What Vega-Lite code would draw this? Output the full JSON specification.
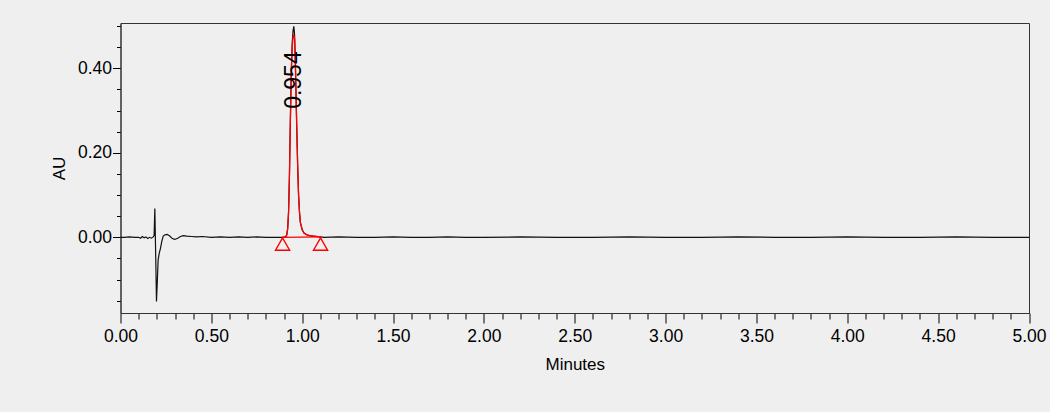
{
  "$schema": "https://vega.github.io/schema/vega-lite/v6.json",
  "autosize": {"type": "none"},
  "padding": {"left": 120.5, "top": 23, "right": 21, "bottom": 99},
  "width": 908.5,
  "height": 290,
  "background": "#efefef",
  "config": {
    "font": "Liberation Sans",
    "view": {"fill": "#efefef", "stroke": "#333333", "strokeWidth": 1}
  },
  "datasets": {
    "trace": [
      {"t": 0.0, "v": 0.0}, {"t": 0.02, "v": 0.0}, {"t": 0.05, "v": 0.001}, {"t": 0.08, "v": 0.0},
      {"t": 0.1, "v": 0.0}, {"t": 0.11, "v": -0.002}, {"t": 0.12, "v": 0.002}, {"t": 0.13, "v": -0.001},
      {"t": 0.14, "v": 0.001}, {"t": 0.15, "v": -0.003}, {"t": 0.16, "v": 0.0}, {"t": 0.17, "v": -0.002},
      {"t": 0.18, "v": 0.001}, {"t": 0.185, "v": 0.004}, {"t": 0.189, "v": 0.068}, {"t": 0.194, "v": -0.05},
      {"t": 0.198, "v": -0.152}, {"t": 0.203, "v": -0.1}, {"t": 0.207, "v": -0.054}, {"t": 0.213, "v": -0.038},
      {"t": 0.22, "v": -0.026}, {"t": 0.227, "v": -0.01}, {"t": 0.235, "v": 0.003}, {"t": 0.245, "v": 0.006},
      {"t": 0.257, "v": 0.007}, {"t": 0.271, "v": 0.003}, {"t": 0.285, "v": -0.003}, {"t": 0.299, "v": -0.005},
      {"t": 0.315, "v": -0.002}, {"t": 0.33, "v": 0.002}, {"t": 0.345, "v": 0.004}, {"t": 0.365, "v": 0.003},
      {"t": 0.39, "v": 0.002}, {"t": 0.42, "v": 0.001}, {"t": 0.45, "v": 0.002}, {"t": 0.5, "v": 0.0},
      {"t": 0.55, "v": 0.001}, {"t": 0.6, "v": 0.0}, {"t": 0.65, "v": 0.001}, {"t": 0.7, "v": 0.0},
      {"t": 0.75, "v": 0.001}, {"t": 0.8, "v": 0.0}, {"t": 0.85, "v": 0.0}, {"t": 0.88, "v": 0.0},
      {"t": 0.9, "v": 0.0}, {"t": 0.91, "v": 0.002}, {"t": 0.915, "v": 0.006}, {"t": 0.92, "v": 0.02},
      {"t": 0.925, "v": 0.06}, {"t": 0.93, "v": 0.15}, {"t": 0.935, "v": 0.28}, {"t": 0.94, "v": 0.39},
      {"t": 0.945, "v": 0.46}, {"t": 0.95, "v": 0.49}, {"t": 0.954, "v": 0.499}, {"t": 0.958, "v": 0.48},
      {"t": 0.962, "v": 0.42}, {"t": 0.966, "v": 0.34}, {"t": 0.97, "v": 0.26}, {"t": 0.975, "v": 0.17},
      {"t": 0.98, "v": 0.1}, {"t": 0.985, "v": 0.06}, {"t": 0.99, "v": 0.035}, {"t": 1.0, "v": 0.018},
      {"t": 1.01, "v": 0.01}, {"t": 1.025, "v": 0.006}, {"t": 1.04, "v": 0.004}, {"t": 1.06, "v": 0.003},
      {"t": 1.08, "v": 0.002}, {"t": 1.1, "v": 0.001}, {"t": 1.12, "v": 0.0}, {"t": 1.2, "v": 0.001},
      {"t": 1.3, "v": 0.0}, {"t": 1.4, "v": 0.0}, {"t": 1.5, "v": 0.001}, {"t": 1.6, "v": 0.0},
      {"t": 1.7, "v": 0.0}, {"t": 1.8, "v": 0.001}, {"t": 1.9, "v": 0.0}, {"t": 2.0, "v": 0.0},
      {"t": 2.2, "v": 0.001}, {"t": 2.4, "v": 0.0}, {"t": 2.6, "v": 0.0}, {"t": 2.8, "v": 0.001},
      {"t": 3.0, "v": 0.0}, {"t": 3.2, "v": 0.0}, {"t": 3.4, "v": 0.001}, {"t": 3.6, "v": 0.0},
      {"t": 3.8, "v": 0.0}, {"t": 4.0, "v": 0.001}, {"t": 4.2, "v": 0.0}, {"t": 4.4, "v": 0.0},
      {"t": 4.6, "v": 0.001}, {"t": 4.8, "v": 0.0}, {"t": 5.0, "v": 0.0}
    ],
    "fit": [
      {"t": 0.892, "v": 0.0}, {"t": 0.905, "v": 0.001}, {"t": 0.91, "v": 0.002}, {"t": 0.915, "v": 0.006},
      {"t": 0.92, "v": 0.02}, {"t": 0.925, "v": 0.06}, {"t": 0.93, "v": 0.15}, {"t": 0.935, "v": 0.28},
      {"t": 0.94, "v": 0.39}, {"t": 0.945, "v": 0.45}, {"t": 0.95, "v": 0.475}, {"t": 0.954, "v": 0.478},
      {"t": 0.958, "v": 0.47}, {"t": 0.962, "v": 0.42}, {"t": 0.966, "v": 0.34}, {"t": 0.97, "v": 0.26},
      {"t": 0.975, "v": 0.17}, {"t": 0.98, "v": 0.1}, {"t": 0.985, "v": 0.06}, {"t": 0.99, "v": 0.035},
      {"t": 1.0, "v": 0.018}, {"t": 1.01, "v": 0.01}, {"t": 1.025, "v": 0.006}, {"t": 1.04, "v": 0.004},
      {"t": 1.06, "v": 0.003}, {"t": 1.08, "v": 0.002}, {"t": 1.101, "v": 0.001}
    ],
    "base": [{"t": 0.892, "v": 0.0}, {"t": 1.101, "v": 0.001}],
    "marks": [{"t": 0.892, "v": -0.016}, {"t": 1.101, "v": -0.016}],
    "label": [{"t": 0.954, "v": 0.372, "lab": "0.954"}]
  },
  "encoding": {
    "x": {
      "field": "t", "type": "quantitative",
      "scale": {"domain": [0, 5], "nice": false, "zero": false},
      "axis": {
        "title": "Minutes", "titleFontSize": 17, "titleFontWeight": "normal", "titleColor": "#000000", "titlePadding": 12,
        "values": [0, 0.1, 0.2, 0.3, 0.4, 0.5, 0.6, 0.7, 0.8, 0.9, 1.0, 1.1, 1.2, 1.3, 1.4, 1.5, 1.6, 1.7, 1.8, 1.9, 2.0, 2.1, 2.2, 2.3, 2.4, 2.5, 2.6, 2.7, 2.8, 2.9, 3.0, 3.1, 3.2, 3.3, 3.4, 3.5, 3.6, 3.7, 3.8, 3.9, 4.0, 4.1, 4.2, 4.3, 4.4, 4.5, 4.6, 4.7, 4.8, 4.9, 5.0],
        "labelExpr": "abs(datum.value*2 - round(datum.value*2)) < 0.001 ? format(datum.value, '.2f') : ''",
        "labelFontSize": 17.5, "labelColor": "#000000", "labelPadding": 4, "labelFlush": false, "labelOverlap": false, "labelBound": false,
        "tickSize": {"condition": {"test": "abs(datum.value*2 - round(datum.value*2)) < 0.001", "value": 10}, "value": 6},
        "tickColor": "#000000", "domainColor": "#333333", "grid": false
      }
    },
    "y": {
      "field": "v", "type": "quantitative",
      "scale": {"domain": [-0.179, 0.507], "nice": false, "zero": false},
      "axis": {
        "title": "AU", "titleFontSize": 17, "titleFontWeight": "normal", "titleColor": "#000000", "titlePadding": 9,
        "values": [-0.15, -0.1, -0.05, 0, 0.05, 0.1, 0.15, 0.2, 0.25, 0.3, 0.35, 0.4, 0.45, 0.5],
        "labelExpr": "abs(datum.value*5 - round(datum.value*5)) < 0.001 ? format(datum.value, '.2f') : ''",
        "labelFontSize": 17.5, "labelColor": "#000000", "labelPadding": 1, "labelOverlap": false, "labelBound": false, "labelFlush": false,
        "tickSize": {"condition": {"test": "abs(datum.value*5 - round(datum.value*5)) < 0.001", "value": 8}, "value": 4},
        "tickColor": "#000000", "domainColor": "#333333", "grid": false
      }
    }
  },
  "layer": [
    {"data": {"name": "trace"}, "mark": {"type": "line", "color": "#111111", "strokeWidth": 1.2}},
    {"data": {"name": "fit"}, "mark": {"type": "line", "color": "#ff0000", "strokeWidth": 1.3}},
    {"data": {"name": "base"}, "mark": {"type": "line", "color": "#ff0000", "strokeWidth": 1.2}},
    {"data": {"name": "marks"}, "mark": {"type": "point", "shape": "triangle-up", "filled": false, "color": "#ff0000", "size": 200, "strokeWidth": 1.4, "opacity": 1}},
    {"data": {"name": "label"}, "mark": {"type": "text", "angle": 270, "align": "center", "baseline": "middle", "fontSize": 23, "color": "#000000"}, "encoding": {"text": {"field": "lab"}}}
  ]
}
